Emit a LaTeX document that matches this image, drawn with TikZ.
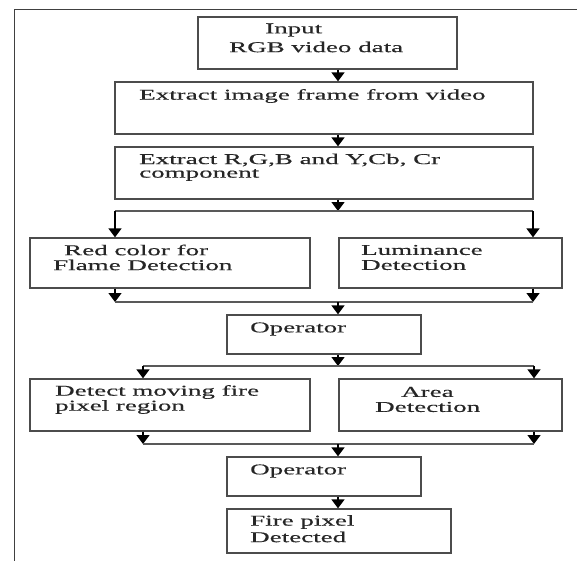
\documentclass[tikz,border=0pt]{standalone}
\usepackage{fontspec}
\newfontfamily\flowfont[FakeStretch=1.8,FakeBold=0.4]{Liberation Serif}
\usetikzlibrary{arrows.meta}
\begin{document}
\begin{tikzpicture}[x=1pt,y=-1pt,
  box/.style={draw=black!70,line width=1.3pt,rectangle,inner sep=0pt,anchor=center},
  txt/.style={anchor=west,inner sep=0pt,font=\flowfont\fontsize{15pt}{16pt}\selectfont,text=black!85},
  conn/.style={draw=black!65,line width=1.5pt},
  arr/.style={draw=black,line width=1.4pt,-{Triangle[width=13pt,length=9pt]}}]
\useasboundingbox (0,0) rectangle (577,561);
% frame
\coordinate (fa) at (577,9.5);
\coordinate (fb) at (14.5,9.5);
\coordinate (fc) at (14.5,561);
\draw[draw=black!75,line width=1.2pt] (fa) -- (fb) -- (fc);
% boxes
\node[box,minimum width=259,minimum height=52] (b1) at (327.5,43) {};
\node[box,minimum width=418,minimum height=52] (b2) at (324,108) {};
\node[box,minimum width=418,minimum height=52] (b3) at (324,173) {};
\node[box,minimum width=280,minimum height=50] (b4) at (170,263) {};
\node[box,minimum width=223,minimum height=50] (b5) at (450.5,263) {};
\node[box,minimum width=194,minimum height=39] (b6) at (324,334.5) {};
\node[box,minimum width=280,minimum height=52] (b7) at (170,405) {};
\node[box,minimum width=223,minimum height=52] (b8) at (450.5,405) {};
\node[box,minimum width=194,minimum height=39] (b9) at (324,476.5) {};
\node[box,minimum width=224,minimum height=44] (b10) at (339,531) {};
% texts
\node[txt] (t1a) at (265,30) {Input};
\node[txt] (t1b) at (229,47) {RGB video data};
\node[txt] (t2) at (139,96) {Extract image frame from video};
\node[txt] (t3a) at (139,160) {Extract R,G,B and Y,Cb, Cr};
\node[txt] (t3b) at (139,175) {component};
\node[txt] (t4a) at (64,250) {Red color for};
\node[txt] (t4b) at (53,265) {Flame Detection};
\node[txt] (t5a) at (361,250) {Luminance};
\node[txt] (t5b) at (361,265) {Detection};
\node[txt] (t6) at (250,329) {Operator};
\node[txt] (t7a) at (55,392) {Detect moving fire};
\node[txt] (t7b) at (55,407) {pixel region};
\node[txt] (t8a) at (401,392) {Area};
\node[txt] (t8b) at (375,407) {Detection};
\node[txt] (t9) at (250,471) {Operator};
\node[txt] (t10a) at (250,522) {Fire pixel};
\node[txt] (t10b) at (250,537) {Detected};
% connector coordinates
\coordinate (mx) at (338,0);
\coordinate (s1) at (338,211);
\coordinate (s1L) at (115,211);
\coordinate (s1R) at (533,211);
\coordinate (m1) at (338,302);
\coordinate (m1L) at (115,302);
\coordinate (m1R) at (533,302);
\coordinate (s2) at (338,366);
\coordinate (s2L) at (143,366);
\coordinate (s2R) at (534,366);
\coordinate (m2) at (338,444);
\coordinate (m2L) at (143,444);
\coordinate (m2R) at (534,444);
% connectors
\draw[arr] (b1.south -| mx) -- (b2.north -| mx);
\draw[arr] (b2.south -| mx) -- (b3.north -| mx);
\draw[arr] (b3.south -| mx) -- (s1);
\draw[conn] (s1L) -- (s1R);
\draw[arr] (s1L) -- (s1L |- b4.north);
\draw[arr] (s1R) -- (s1R |- b5.north);
\draw[arr] (m1L |- b4.south) -- (m1L);
\draw[arr] (m1R |- b5.south) -- (m1R);
\draw[conn] (m1L) -- (m1R);
\draw[arr] (m1) -- (b6.north -| mx);
\draw[arr] (b6.south -| mx) -- (s2);
\draw[conn] (s2L) -- (s2R);
\draw[arr] (s2L) -- (s2L |- b7.north);
\draw[arr] (s2R) -- (s2R |- b8.north);
\draw[arr] (m2L |- b7.south) -- (m2L);
\draw[arr] (m2R |- b8.south) -- (m2R);
\draw[conn] (m2L) -- (m2R);
\draw[arr] (m2) -- (b9.north -| mx);
\draw[arr] (b9.south -| mx) -- (b10.north -| mx);
\end{tikzpicture}
\end{document}
